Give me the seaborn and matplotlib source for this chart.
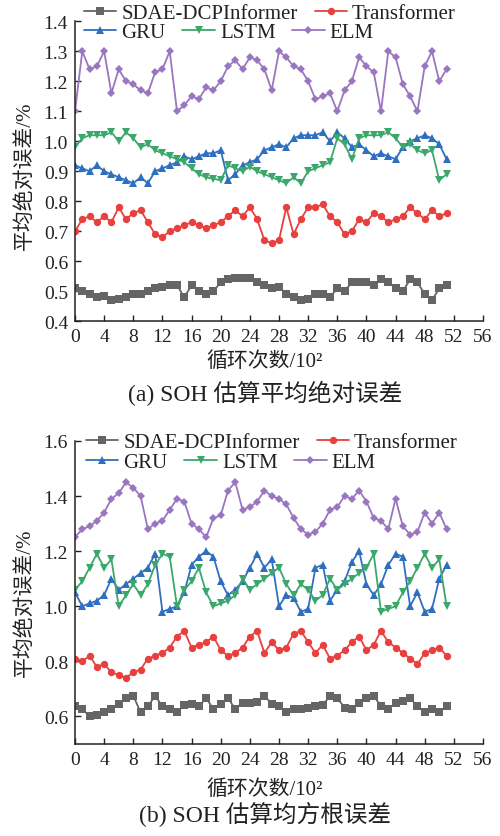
import matplotlib
matplotlib.use("Agg")
import matplotlib.pyplot as plt
import seaborn as sns
import numpy as np
import pandas as pd

sns.set_style("ticks")
plt.rcParams['font.family'] = ['Liberation Serif', 'Noto Sans CJK SC']
plt.rcParams['axes.unicode_minus'] = False

cycles = list(range(52))
series_names = ["SDAE-DCPInformer", "Transformer", "GRU", "LSTM", "ELM"]
colors = ["#656565", "#E8403F", "#2F6FBF", "#3BA86B", "#9A75C0"]
markers = ["s", "o", "^", "v", "D"]

# (a) MAE
mae_sdae = [0.51, 0.50, 0.49, 0.48, 0.485, 0.47, 0.475, 0.48, 0.49, 0.49,
            0.50, 0.51, 0.515, 0.52, 0.52, 0.48, 0.52, 0.50, 0.49, 0.50,
            0.53, 0.54, 0.545, 0.545, 0.545, 0.53, 0.52, 0.51, 0.515, 0.49,
            0.48, 0.47, 0.475, 0.49, 0.49, 0.48, 0.51, 0.50, 0.53, 0.53,
            0.53, 0.52, 0.54, 0.53, 0.51, 0.50, 0.54, 0.53, 0.49, 0.47,
            0.51, 0.52]
mae_trans = [0.70, 0.74, 0.75, 0.73, 0.75, 0.73, 0.78, 0.74, 0.76, 0.77,
             0.73, 0.69, 0.68, 0.70, 0.71, 0.72, 0.73, 0.72, 0.71, 0.72,
             0.73, 0.75, 0.77, 0.75, 0.78, 0.74, 0.67, 0.66, 0.67, 0.78,
             0.69, 0.74, 0.78, 0.78, 0.79, 0.75, 0.73, 0.69, 0.70, 0.74,
             0.73, 0.76, 0.75, 0.73, 0.74, 0.75, 0.78, 0.76, 0.74, 0.77,
             0.75, 0.76]
mae_gru = [0.92, 0.91, 0.90, 0.92, 0.90, 0.89, 0.88, 0.87, 0.86, 0.88,
           0.86, 0.90, 0.91, 0.92, 0.93, 0.95, 0.94, 0.95, 0.96, 0.96,
           0.97, 0.87, 0.89, 0.92, 0.93, 0.94, 0.97, 0.98, 0.99, 0.98,
           1.01, 1.02, 1.02, 1.02, 1.03, 1.00, 1.03, 1.01, 0.98, 0.99,
           0.97, 0.95, 0.96, 0.95, 0.94, 0.98, 1.00, 1.01, 1.02, 1.01,
           0.99, 0.94]
mae_lstm = [0.98, 1.01, 1.02, 1.02, 1.02, 1.03, 1.00, 1.03, 1.01, 0.98,
            0.99, 0.97, 0.96, 0.95, 0.94, 0.93, 0.91, 0.89, 0.88, 0.875,
            0.87, 0.92, 0.91, 0.90, 0.915, 0.90, 0.89, 0.88, 0.87, 0.86,
            0.88, 0.86, 0.90, 0.91, 0.92, 0.93, 1.01, 0.99, 0.94, 1.01,
            1.02, 1.02, 1.02, 1.03, 1.01, 0.98, 0.99, 0.97, 0.96, 0.97,
            0.87, 0.89]
mae_elm = [1.10, 1.30, 1.24, 1.25, 1.30, 1.16, 1.24, 1.20, 1.19, 1.17,
           1.16, 1.23, 1.24, 1.30, 1.10, 1.12, 1.15, 1.14, 1.18, 1.17,
           1.20, 1.25, 1.27, 1.24, 1.28, 1.27, 1.24, 1.17, 1.30, 1.28,
           1.25, 1.24, 1.20, 1.14, 1.15, 1.16, 1.10, 1.17, 1.20, 1.28,
           1.25, 1.23, 1.10, 1.30, 1.28, 1.19, 1.15, 1.10, 1.25, 1.30,
           1.20, 1.24]

# (b) RMSE
rmse_sdae = [0.636, 0.627, 0.600, 0.606, 0.615, 0.627, 0.645, 0.666, 0.675, 0.615,
             0.636, 0.675, 0.636, 0.627, 0.615, 0.640, 0.645, 0.636, 0.666, 0.627,
             0.645, 0.666, 0.627, 0.650, 0.648, 0.654, 0.675, 0.645, 0.636, 0.615,
             0.625, 0.627, 0.632, 0.636, 0.640, 0.675, 0.666, 0.632, 0.627, 0.648,
             0.666, 0.675, 0.636, 0.627, 0.648, 0.656, 0.666, 0.636, 0.615, 0.627,
             0.615, 0.636]
rmse_trans = [0.81, 0.80, 0.82, 0.78, 0.79, 0.76, 0.75, 0.74, 0.76, 0.77,
              0.81, 0.82, 0.83, 0.85, 0.89, 0.91, 0.85, 0.86, 0.87, 0.89,
              0.84, 0.82, 0.83, 0.85, 0.89, 0.91, 0.83, 0.87, 0.84, 0.85,
              0.90, 0.91, 0.87, 0.83, 0.86, 0.81, 0.82, 0.84, 0.87, 0.89,
              0.84, 0.86, 0.91, 0.87, 0.85, 0.83, 0.81, 0.79, 0.83, 0.84,
              0.85, 0.82]
rmse_gru = [1.05, 1.00, 1.01, 1.02, 1.04, 1.10, 1.06, 1.08, 1.10, 1.12,
            1.14, 1.19, 0.98, 0.99, 1.00, 1.05, 1.15, 1.18, 1.20, 1.18,
            1.09, 1.04, 1.06, 1.09, 1.14, 1.19, 1.14, 1.17, 1.00, 1.04,
            1.03, 0.98, 0.99, 1.14, 1.15, 1.02, 1.06, 1.09, 1.16, 1.20,
            1.08, 1.04, 1.08, 1.15, 1.19, 1.18, 1.00, 1.05, 0.98, 0.99,
            1.10, 1.15]
rmse_lstm = [1.06, 1.09, 1.14, 1.19, 1.14, 1.17, 1.00, 1.04, 1.08, 1.04,
             1.08, 1.15, 1.19, 1.18, 1.00, 1.06, 1.09, 1.14, 1.05, 1.00,
             1.01, 1.02, 1.04, 1.10, 1.06, 1.08, 1.10, 1.12, 1.14, 1.08,
             1.04, 1.08, 1.06, 1.02, 1.04, 1.10, 1.06, 1.08, 1.10, 1.12,
             1.14, 1.19, 0.98, 0.99, 1.00, 1.05, 1.09, 1.14, 1.19, 1.14,
             1.17, 1.00]
rmse_elm = [1.25, 1.28, 1.29, 1.31, 1.34, 1.39, 1.41, 1.45, 1.43, 1.40,
            1.28, 1.30, 1.31, 1.35, 1.39, 1.38, 1.30, 1.28, 1.25, 1.32,
            1.33, 1.42, 1.45, 1.35, 1.36, 1.38, 1.42, 1.40, 1.39, 1.37,
            1.32, 1.28, 1.26, 1.27, 1.30, 1.35, 1.36, 1.40, 1.39, 1.42,
            1.38, 1.32, 1.31, 1.28, 1.39, 1.29, 1.26, 1.27, 1.34, 1.30,
            1.34, 1.28]

x_ticks = list(range(0, 57, 4))
ylabel = "平均绝对误差/%"
xlabel = "循环次数/10²"
caption_a = "(a) SOH 估算平均绝对误差"
caption_b = "(b) SOH 估算均方根误差"

fig = plt.figure(figsize=(5, 8.37), dpi=100)
ax1 = fig.add_axes([0.15, 0.615, 0.816, 0.3584])
ax2 = fig.add_axes([0.15, 0.110, 0.816, 0.362])


def draw(ax, data, ylim, yticks, yfmt):
    for name, vals, c, m in zip(series_names, data, colors, markers):
        df = pd.DataFrame({"cycle": cycles, "value": vals})
        sns.lineplot(data=df, x="cycle", y="value", ax=ax, color=c, marker=m,
                     markersize=5.3 if m != "D" else 4.5, markeredgewidth=0,
                     linewidth=1.3, legend=False)
    ax.set_xlim(0, 56)
    ax.set_ylim(*ylim)
    ax.set_xticks(x_ticks)
    ax.set_yticks(yticks)
    ax.set_yticklabels([yfmt.format(v) for v in yticks])
    ax.tick_params(direction="in", length=4, width=1, labelsize=14,
                   colors="#222222")
    ax.tick_params(axis="x", pad=5)
    ax.tick_params(axis="y", pad=5)
    for s in ["top", "right"]:
        ax.spines[s].set_visible(False)
    for s in ["left", "bottom"]:
        ax.spines[s].set_linewidth(1.1)
        ax.spines[s].set_color("#222222")
    ax.set_xlabel("")
    ax.set_ylabel("")


draw(ax1, [mae_sdae, mae_trans, mae_gru, mae_lstm, mae_elm],
     (0.4, 1.4), [round(0.4 + 0.1 * i, 1) for i in range(11)], "{:.1f}")
draw(ax2, [rmse_sdae, rmse_trans, rmse_gru, rmse_lstm, rmse_elm],
     (0.5, 1.6), [0.6, 0.8, 1.0, 1.2, 1.4, 1.6], "{:.1f}")

W, H = 500, 837


def legends(ax, y1, y2, x0):
    lines = ax.get_lines()[:5]
    kw = dict(frameon=False, fontsize=15, handlelength=1.55, handletextpad=0.25,
              columnspacing=0.8, borderpad=0, borderaxespad=0, loc="center left",
              bbox_transform=fig.transFigure, labelcolor="#222222")
    leg1 = ax.legend(lines[:2], series_names[:2], ncol=2,
                     bbox_to_anchor=(x0 / W, 1 - y1 / H), **kw)
    ax.add_artist(leg1)
    ax.legend(lines[2:], series_names[2:], ncol=3,
              bbox_to_anchor=(x0 / W, 1 - y2 / H), **kw)


legends(ax1, 14, 33, 84)
legends(ax2, 443, 463, 86)

for ax, yc, ylc, cap, capy in [(ax1, 362, 0.49, caption_a, 393),
                               (ax2, 790, 0.47, caption_b, 815)]:
    ax.set_ylabel(ylabel, fontsize=15, color="#222222")
    ax.yaxis.set_label_coords(35 / W, ylc, transform=None)
    ax.yaxis.label.set_transform(matplotlib.transforms.blended_transform_factory(
        fig.transFigure, ax.transAxes))
    fig.text(265 / W, 1 - yc / H, xlabel, fontsize=15, ha="center", va="center",
             color="#222222")
    fig.text(265 / W, 1 - capy / H, cap, fontsize=17, ha="center", va="center",
             color="#222222")

fig.savefig("out.png", dpi=100)
